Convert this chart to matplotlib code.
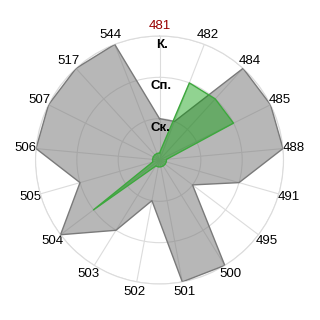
import numpy as np
import matplotlib
matplotlib.use("Agg")
import matplotlib.pyplot as plt

categories = ["481", "482", "484", "485", "488", "491", "495", "500", "501",
              "502", "503", "504", "505", "506", "507", "517", "544"]
gray_values = [1, 1, 3, 3, 3, 2, 1, 3, 3, 1, 2, 3, 2, 3, 3, 3, 3]
green_values = [0.17, 2, 2, 2, 0.17, 0.17, 0.17, 0.17, 0.17, 0.17, 0.17, 2,
                0.17, 0.17, 0.17, 0.17, 0.17]
level_labels = ["Ск.", "Сп.", "К."]
level_values = [1, 2, 3]

plt.rcParams['font.family'] = ['Liberation Sans', 'DejaVu Sans']

n = len(categories)
theta = np.linspace(0, 2 * np.pi, n, endpoint=False)
tc = np.concatenate([theta, theta[:1]])

fig = plt.figure(figsize=(3.2, 3.2), dpi=100)
ax = fig.add_axes([0.111, 0.1125, 0.775, 0.775], projection='polar')
ax.set_theta_zero_location('N')
ax.set_theta_direction(-1)
ax.set_ylim(0, 3)

gv = np.concatenate([gray_values, gray_values[:1]])
ax.fill(tc, gv, color=(0.47, 0.47, 0.47), alpha=0.53, zorder=2, linewidth=0)
ax.plot(tc, gv, color='#7a7a7a', linewidth=1.0, zorder=3)

grv = np.concatenate([green_values, green_values[:1]])
ax.fill(tc, grv, color=(0.0, 0.6, 0.0), alpha=0.43, zorder=4, linewidth=0)
ax.plot(tc, grv, color='#3da83d', linewidth=1.0, zorder=5)

ax.set_xticks(theta)
ax.set_xticklabels(categories, fontsize=9.5)
ax.get_xticklabels()[0].set_color('#990000')
ax.tick_params(axis='x', pad=-3)
ax.set_yticks(level_values)
ax.set_yticklabels([])
ax.grid(True, color='#dcdcdc', linewidth=0.8)
ax.spines['polar'].set_color('#dcdcdc')
ax.spines['polar'].set_linewidth(0.8)
ax.set_axisbelow(True)

for lab, v in zip(level_labels, level_values):
    ax.text(0.018, v - 0.22, lab, fontsize=9.5, fontweight='bold', ha='center',
            va='center', color='black', zorder=6)

fig.savefig('out.png', dpi=100)
